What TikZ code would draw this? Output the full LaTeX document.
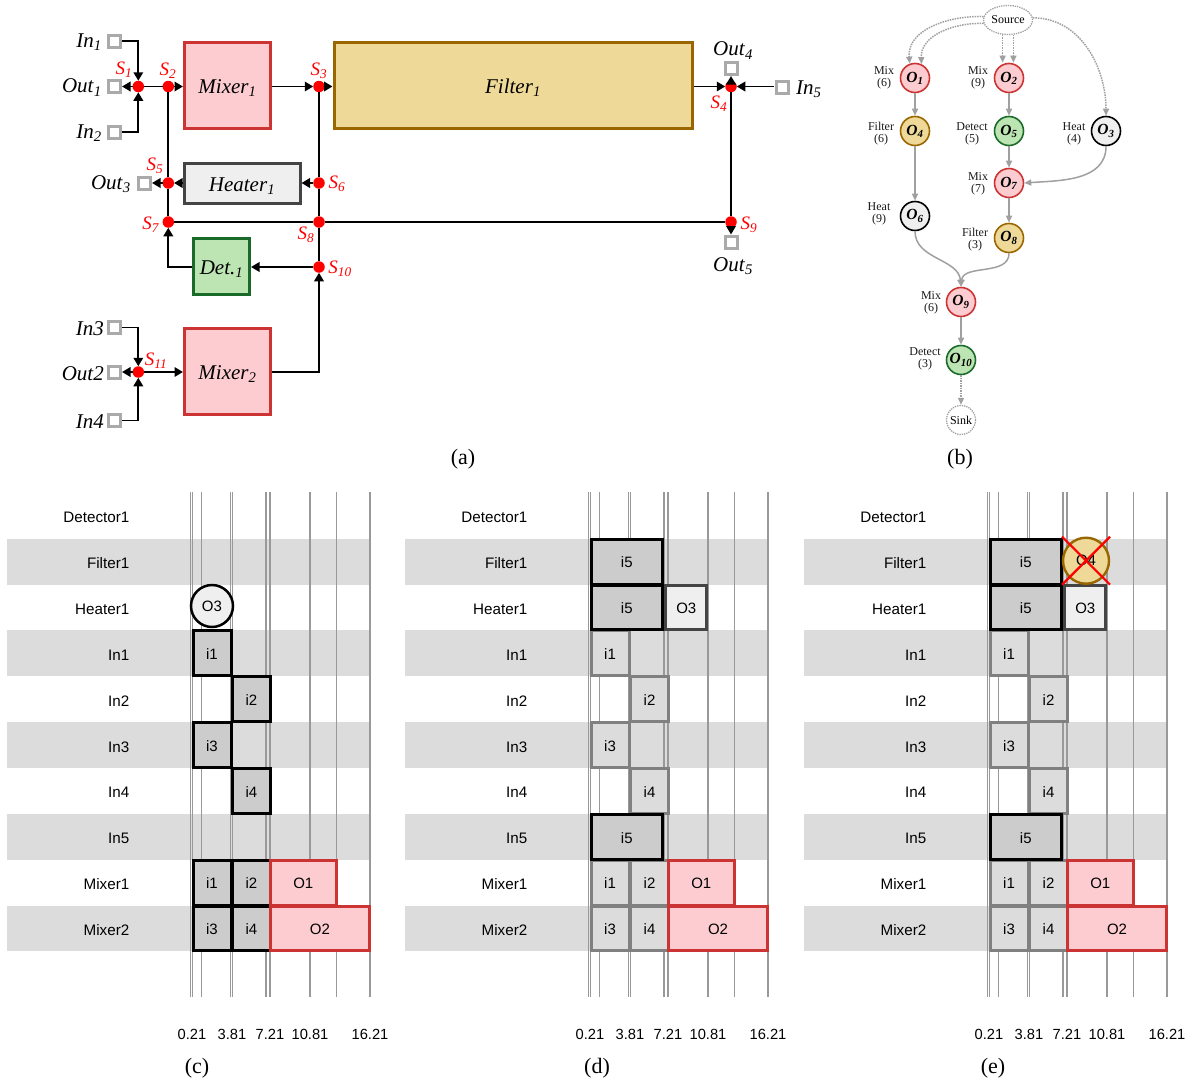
\documentclass[tikz,border=0pt]{standalone}
\usepackage{fontspec}
\setmainfont{Liberation Serif}
\setsansfont{Liberation Sans}
\usetikzlibrary{arrows.meta, shapes.geometric, shapes.misc}
\definecolor{MixerRed}{HTML}{CC3333}
\definecolor{MixerFill}{HTML}{FCCCD0}
\definecolor{FilterBrown}{HTML}{996600}
\definecolor{FilterFill}{HTML}{EED998}
\definecolor{DetGreen}{HTML}{1A6B2A}
\definecolor{DetFill}{HTML}{BDE5B3}
\definecolor{HeatDark}{HTML}{444444}
\definecolor{HeatFill}{HTML}{EFEFEF}
\definecolor{BandGray}{HTML}{DCDCDC}
\definecolor{GridGray}{HTML}{999999}
\definecolor{EdgeGray}{HTML}{A0A0A0}
\definecolor{PortGray}{HTML}{AAAAAA}
\newcommand{\subtxt}[2]{\textit{#1}\textsubscript{\textit{#2}}}
\newcommand{\optxt}[1]{\textbf{\textit{O}\textsubscript{\textit{#1}}}}
\newcommand{\fsz}[1]{\fontsize{#1}{#1}\selectfont}

\begin{document}
\begin{tikzpicture}[
  x=1pt, y=-1pt,
  unit/.style={rectangle, line width=3pt, inner sep=0pt, outer sep=1.5pt, font=\fsz{21}, text height=16pt, text depth=0pt},
  port/.style={rectangle, draw=PortGray, fill=white, line width=3pt, minimum size=12pt, inner sep=0pt, outer sep=2pt},
  switch/.style={circle, fill=red, minimum size=11.5pt, inner sep=0pt, outer sep=0pt},
  txt/.style={font=\fsz{21}, inner sep=0pt, yshift=-1.5pt},
  swtxt/.style={font=\fsz{19}, text=red, inner sep=0pt, yshift=-1pt},
  arr/.style={-{Triangle[length=8.5pt,width=9.5pt]}, line width=1.9pt},
  wire/.style={line width=1.9pt},
  op/.style={circle, minimum size=29pt, inner sep=0pt, line width=1.6pt, font=\fsz{15.5}},
  optag/.style={font=\fsz{12}, align=center, inner sep=0pt, text=black!90},
  opedge/.style={-{Triangle[length=7pt,width=6pt]}, color=EdgeGray, line width=1.5pt},
  dotedge/.style={opedge, densely dotted},
  band/.style={rectangle, fill=BandGray, minimum width=363pt, minimum height=45.8pt, inner sep=0pt},
  rowtxt/.style={font=\sffamily\fsz{15.2}, anchor=east, inner sep=0pt, text=black, yshift=-1pt},
  ticktxt/.style={font=\sffamily\fsz{14.7}, inner sep=0pt, text=black},
  slot/.style={rectangle, minimum height=44.8pt, inner sep=0pt, line width=3pt, font=\sffamily\fsz{15}, text=black, text height=12.5pt, text depth=0pt},
  inblack/.style={slot, draw=black, fill=black!20},
  ingray/.style={slot, draw=gray, fill=BandGray},
  opred/.style={slot, draw=MixerRed, fill=MixerFill},
  opheat/.style={slot, draw=HeatDark, fill=HeatFill},
  captxt/.style={font=\fsz{22}, inner sep=0pt, yshift=-1.5pt}
]
\useasboundingbox (0,0) rectangle (1193,1084);

% (a) units
\node[unit, draw=MixerRed, fill=MixerFill, minimum width=86pt, minimum height=86pt] (mix1) at (227.5,85) {\subtxt{Mixer}{1}};
\node[unit, draw=FilterBrown, fill=FilterFill, minimum width=358pt, minimum height=86pt] (filter1) at (513,85) {\subtxt{Filter}{1}};
\node[unit, draw=HeatDark, fill=HeatFill, minimum width=116pt, minimum height=40pt] (heater1) at (242,183) {\subtxt{Heater}{1}};
\node[unit, draw=DetGreen, fill=DetFill, minimum width=56pt, minimum height=56pt] (det1) at (221.5,266.5) {\subtxt{Det.}{1}};
\node[unit, draw=MixerRed, fill=MixerFill, minimum width=86pt, minimum height=86pt] (mix2) at (227.5,371) {\subtxt{Mixer}{2}};

% (a) ports
\node[port] (in1)  at (114,41)    {};
\node[port] (out1) at (114,86)    {};
\node[port] (in2)  at (114,132)   {};
\node[port] (out3) at (144,183)   {};
\node[port] (out4) at (731,68)    {};
\node[port] (in5)  at (782,87)    {};
\node[port] (out5) at (731,242.5) {};
\node[port] (in3)  at (114,327.5) {};
\node[port] (out2) at (114,372)   {};
\node[port] (in4)  at (114,420.5) {};

% (a) switches
\node[switch] (s1)  at (138.3,86.5) {};
\node[switch] (s2)  at (168.3,86.5) {};
\node[switch] (s3)  at (319,86.5)   {};
\node[switch] (s4)  at (731,86.5)   {};
\node[switch] (s5)  at (168.3,183) {};
\node[switch] (s6)  at (319,183)  {};
\node[switch] (s7)  at (168.3,222) {};
\node[switch] (s8)  at (319,222)  {};
\node[switch] (s9)  at (731,222)  {};
\node[switch] (s10) at (319,267)  {};
\node[switch] (s11) at (138.3,372) {};

% (a) wires
\draw[arr] (in1) -| (s1);
\draw[arr] (in2) -| (s1);
\draw[arr] (s1) -- (out1.east |- s1);
\draw[wire] (s1) -- (s2);
\draw[arr] (s2) -- (mix1.west |- s2);
\draw[arr] (mix1.east |- s3) -- (s3);
\draw[arr] (s3) -- (filter1.west |- s3);
\draw[arr] (filter1.east |- s4) -- (s4);
\draw[arr] (in5.west |- s4) -- (s4);
\draw[arr] (s4) -- (out4);
\draw[wire] (s4) -- (s9);
\draw[arr] (s9) -- (out5);
\draw[wire] (s2) -- (s5);
\draw[wire] (s5) -- (s7);
\draw[arr] (heater1) -- (s5);
\draw[arr] (s5) -- (out3);
\draw[arr] (s6) -- (heater1);
\draw[wire] (s3) -- (s6);
\draw[wire] (s6) -- (s8);
\draw[wire] (s8) -- (s10);
\draw[wire] (s7) -- (s8);
\draw[wire] (s8) -- (s9);
\draw[arr] (s10) -- (det1.east |- s10);
\draw[arr] (det1.west |- s10) -| (s7);
\draw[arr] (mix2.east |- s11) -| (s10);
\draw[arr] (in3) -| (s11);
\draw[arr] (in4) -| (s11);
\draw[arr] (s11) -- (out2);
\draw[arr] (s11) -- (mix2.west |- s11);

% (a) labels
\node[txt, anchor=east] (tin1)  at (102,41)  {\subtxt{In}{1}};
\node[txt, anchor=east] (tout1) at (102,86)  {\subtxt{Out}{1}};
\node[txt, anchor=east] (tin2)  at (102,132) {\subtxt{In}{2}};
\node[txt, anchor=east] (tout3) at (131,183) {\subtxt{Out}{3}};
\node[txt] (tout4) at (733,49)  {\subtxt{Out}{4}};
\node[txt, anchor=west] (tin5) at (796,88) {\subtxt{In}{5}};
\node[txt] (tout5) at (733,265) {\subtxt{Out}{5}};
\node[txt, anchor=east] (tin3)  at (104,327) {\textit{In3}};
\node[txt, anchor=east] (tout2) at (104,372) {\textit{Out2}};
\node[txt, anchor=east] (tin4)  at (104,420) {\textit{In4}};
\node[swtxt] (ts1)  at (124,69)  {\subtxt{S}{1}};
\node[swtxt] (ts2)  at (168,70)  {\subtxt{S}{2}};
\node[swtxt] (ts3)  at (319,70)  {\subtxt{S}{3}};
\node[swtxt] (ts4)  at (719,103) {\subtxt{S}{4}};
\node[swtxt] (ts5)  at (155,165) {\subtxt{S}{5}};
\node[swtxt] (ts6)  at (337,183) {\subtxt{S}{6}};
\node[swtxt] (ts7)  at (151,224) {\subtxt{S}{7}};
\node[swtxt] (ts8)  at (306,234) {\subtxt{S}{8}};
\node[swtxt] (ts9)  at (749,224) {\subtxt{S}{9}};
\node[swtxt] (ts10) at (340,268) {\subtxt{S}{10}};
\node[swtxt] (ts11) at (156,360) {\subtxt{S}{11}};

% (b) graph
\node[ellipse, draw=EdgeGray, densely dotted, line width=1.3pt, minimum width=49pt, minimum height=29pt, inner sep=0pt, font=\fsz{12}] (source) at (1008,20) {Source};
\node[op, draw=MixerRed, fill=MixerFill] (o1) at (915,78) {\optxt{1}};
\node[op, draw=MixerRed, fill=MixerFill] (o2) at (1009,78) {\optxt{2}};
\node[op, draw=black, fill=HeatFill] (o3) at (1106,131) {\optxt{3}};
\node[op, draw=FilterBrown, fill=FilterFill] (o4) at (915,131) {\optxt{4}};
\node[op, draw=DetGreen, fill=DetFill] (o5) at (1009,131) {\optxt{5}};
\node[op, draw=black, fill=HeatFill] (o6) at (915,216) {\optxt{6}};
\node[op, draw=MixerRed, fill=MixerFill] (o7) at (1009,183) {\optxt{7}};
\node[op, draw=FilterBrown, fill=FilterFill] (o8) at (1009,238) {\optxt{8}};
\node[op, draw=MixerRed, fill=MixerFill] (o9) at (961,302) {\optxt{9}};
\node[op, draw=DetGreen, fill=DetFill] (o10) at (961,360) {\optxt{10}};
\node[circle, draw=EdgeGray, densely dotted, line width=1.3pt, minimum size=29pt, inner sep=0pt, font=\fsz{12}] (sink) at (961,420) {Sink};

\node[optag] (to1)  at (884,78)  {Mix\\(6)};
\node[optag] (to2)  at (978,78)  {Mix\\(9)};
\node[optag] (to3)  at (1074,134) {Heat\\(4)};
\node[optag] (to4)  at (881,134) {Filter\\(6)};
\node[optag] (to5)  at (972,134) {Detect\\(5)};
\node[optag] (to6)  at (879,214) {Heat\\(9)};
\node[optag] (to7)  at (978,184) {Mix\\(7)};
\node[optag] (to8)  at (975,240) {Filter\\(3)};
\node[optag] (to9)  at (931,303) {Mix\\(6)};
\node[optag] (to10) at (925,359) {Detect\\(3)};

\draw[dotedge] (source.172) to[out=178,in=95] (o1.110);
\draw[dotedge] (source.188) to[out=178,in=92] (o1.65);
\draw[dotedge] (source.250) -- (source.250 |- o2.north);
\draw[dotedge] (source.290) -- (source.290 |- o2.north);
\draw[dotedge] (source.5) to[out=0,in=90] (o3.north);
\draw[opedge] (o1) -- (o4);
\draw[opedge] (o4) -- (o6);
\draw[opedge] (o2) -- (o5);
\draw[opedge] (o5) -- (o7);
\draw[opedge] (o7) -- (o8);
\draw[opedge] (o3.south) to[out=-90,in=4] (o7.east);
\draw[opedge] (o6.south) to[out=-90,in=95] (o9.north);
\draw[opedge] (o8.south) to[out=-90,in=85] (o9.north);
\draw[opedge] (o9) -- (o10);
\draw[dotedge] (o10) -- (sink);

% (c)(d)(e) common part
\foreach \pnl/\dx in {c/0,d/398,e/797}{
\begin{scope}[xshift=\dx pt]
  \foreach \rname/\ry in {filter/561.7,in1/653.3,in3/745,in5/836.8,mixtwo/928.5}
    \node[band] (band\pnl\rname) at (188.5,\ry) {};
  \foreach \gx in {190.7,192.7,201.7,230.7,232.3,266,270,310,336.7,370}
    \draw[GridGray, line width=1.4pt] (\gx,492) -- (\gx,997);
  \foreach \rtxt/\ry in {Detector1/516,Filter1/562,Heater1/608,In1/654,In2/700,In3/746,In4/791.5,In5/837.5,Mixer1/883.5,Mixer2/929.5}
    \node[rowtxt] (row\pnl\rtxt) at (129.5,\ry) {\rtxt};
  \foreach \ttxt/\tx in {0.21/192,3.81/232,7.21/270,10.81/310,16.21/370}
    \node[ticktxt] (tick\pnl\tx) at (\tx,1034.5) {\ttxt};
\end{scope}
}

% (c)
\node[circle, draw=black, fill=HeatFill, line width=2.5pt, minimum size=42pt, inner sep=0pt, font=\sffamily\fsz{15}, text=black] (co3) at (212,606) {O3};
\foreach \bname/\bx/\by in {i1/212/653.3,i2/251.5/699.2,i3/212/745,i4/251.5/790.9,i1/212/882.7,i2/251.5/882.7,i3/212/928.5,i4/251.5/928.5}
  \node[inblack, minimum width=38pt] (c\bname-\by) at (\bx,\by) {\bname};
\node[opred, minimum width=66pt] (co1) at (303.3,882.7) {O1};
\node[opred, minimum width=99.2pt] (co2) at (320,928.5) {O2};

% (d)(e)
\foreach \pnl/\dx in {d/398,e/797}{
\begin{scope}[xshift=\dx pt]
  \foreach \bname/\bx/\by in {i1/212/653.3,i2/251.5/699.2,i3/212/745,i4/251.5/790.9,i1/212/882.7,i2/251.5/882.7,i3/212/928.5,i4/251.5/928.5}
    \node[ingray, minimum width=38pt] (\pnl\bname-\by) at (\bx,\by) {\bname};
  \foreach \by in {561.7,607.5,836.8}
    \node[inblack, minimum width=70.5pt] (\pnl i5-\by) at (228.8,\by) {i5};
  \node[opheat, minimum width=41.2pt] (\pnl o3) at (288.3,607.5) {O3};
  \node[opred, minimum width=66pt] (\pnl o1) at (303.3,882.7) {O1};
  \node[opred, minimum width=99.2pt] (\pnl o2) at (320,928.5) {O2};
\end{scope}
}

% (e) removed operation
\node[circle, draw=FilterBrown, fill=FilterFill, line width=2.4pt, minimum size=46pt, inner sep=0pt, font=\sffamily\fsz{15}, text=black] (eo4) at (1086,560.7) {O4};
\node[cross out, draw=red, line width=2.2pt, minimum size=48pt, inner sep=0pt, outer sep=0pt] (ecross) at (1086,560.7) {};

% captions
\node[captxt] (capa) at (463,458)  {(a)};
\node[captxt] (capb) at (960,458)  {(b)};
\node[captxt] (capc) at (197,1067) {(c)};
\node[captxt] (capd) at (597,1067) {(d)};
\node[captxt] (cape) at (993,1067) {(e)};
\end{tikzpicture}
\end{document}
